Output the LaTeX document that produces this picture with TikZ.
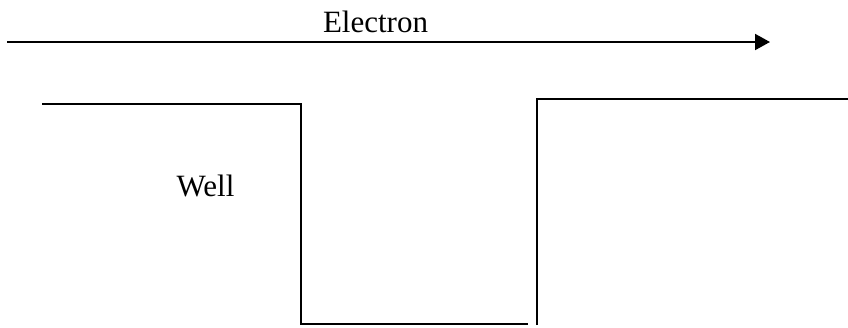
\documentclass[tikz,border=0pt]{standalone}
\usepackage{fontspec}
\setmainfont{Liberation Serif}
\usetikzlibrary{arrows.meta}
\begin{document}
\begin{tikzpicture}[x=1pt,y=-1pt,
  lbl/.style={anchor=base,inner sep=0pt,font=\fontsize{31}{36}\selectfont},
  wire/.style={line width=2pt,line cap=butt,line join=miter}]
\useasboundingbox (0,0) rectangle (848,327);
\node[lbl] (electron) at (375.5,32) {Electron};
\node[lbl] (well) at (205.5,196) {Well};
\coordinate (as) at (7,42);
\coordinate (ae) at (770,42);
\draw[wire,-{Triangle[length=15pt,width=16pt]}] (as) -- (ae);
\coordinate (p1) at (42,103.5);
\coordinate (p2) at (300.5,103.5);
\coordinate (p3) at (300.5,323.5);
\coordinate (p4) at (528,323.5);
\coordinate (q1) at (536.5,325);
\coordinate (q2) at (536.5,98.5);
\coordinate (q3) at (848,98.5);
\draw[wire] (p1) -- (p2) -- (p3) -- (p4);
\draw[wire] (q1) -- (q2) -- (q3);
\end{tikzpicture}
\end{document}
